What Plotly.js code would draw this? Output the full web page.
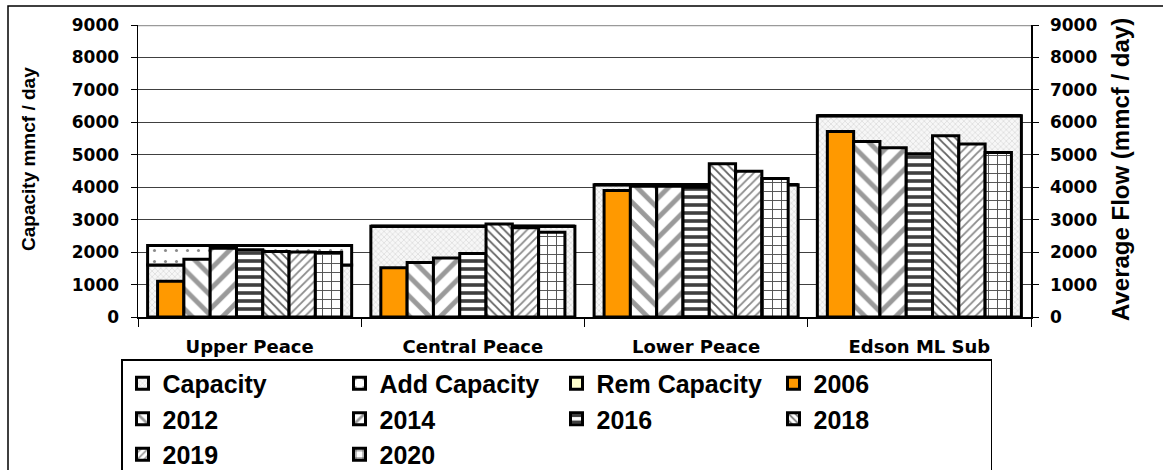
<!DOCTYPE html>
<html><head><meta charset="utf-8">
<script src="https://cdn.plot.ly/plotly-3.0.1.min.js"></script>
<style>html,body{margin:0;padding:0;background:#fff}#chart{width:1163px;height:470px}</style>
</head><body><div id="chart"></div>
<script>
// ---- data ----
const categories = ['Upper Peace', 'Central Peace', 'Lower Peace', 'Edson ML Sub'];
const capacity    = [1600, 2800, 4080, 6200];
const addCapacity = [600, 0, 0, 0];
const remCapacity = [0, 0, 0, 0];
const years = ['2006', '2012', '2014', '2016', '2018', '2019', '2020'];
const flow2006 = [1100, 1520, 3900, 5720];
const flow2012 = [1780, 1680, 4030, 5410];
const flow2014 = [2120, 1820, 4030, 5220];
const flow2016 = [2070, 1960, 4000, 5030];
const flow2018 = [2020, 2870, 4720, 5590];
const flow2019 = [2000, 2750, 4490, 5330];
const flow2020 = [1990, 2610, 4270, 5070];
const yTickVals = [0, 1000, 2000, 3000, 4000, 5000, 6000, 7000, 8000, 9000];
const leftTitle = 'Capacity mmcf / day';
const rightTitle = 'Average Flow (mmcf / day)';

const flows = [flow2006, flow2012, flow2014, flow2016, flow2018, flow2019, flow2020];

// ---- styles ----
const outline = {color: '#000', width: 3};
const yearStyles = [
  {color: '#FF9900', pattern: {shape: ''}},
  {color: '#fff', pattern: {shape: '\\', fgcolor: '#9a9a9a', bgcolor: '#fff', size: 14, solidity: 0.35}},
  {color: '#fff', pattern: {shape: '/', fgcolor: '#9a9a9a', bgcolor: '#fff', size: 14, solidity: 0.35}},
  {color: '#fff', pattern: {shape: '-', fgcolor: '#404040', bgcolor: '#fff', size: 8, solidity: 0.45}},
  {color: '#fff', pattern: {shape: '\\', fgcolor: '#606060', bgcolor: '#fff', size: 6, solidity: 0.3}},
  {color: '#fff', pattern: {shape: '/', fgcolor: '#8a8a8a', bgcolor: '#fff', size: 6, solidity: 0.3}},
  {color: '#fff', pattern: {shape: '+', fgcolor: '#505050', bgcolor: '#fff', size: 9, solidity: 0.2}}
];
const capWidth = 0.914;
const barW = 0.1178;
const groupLeft = -0.4123;

const traces = [];
traces.push({type: 'bar', name: 'Capacity', x: categories, y: capacity, width: capWidth,
  marker: {color: '#f4f4f4', line: outline, pattern: {shape: 'x', fgcolor: '#cfcfcf', bgcolor: '#f7f7f7', size: 4, solidity: 0.25}},
  xaxis: 'x', yaxis: 'y', hoverinfo: 'skip'});
traces.push({type: 'bar', name: 'Add Capacity', x: categories, y: addCapacity, base: capacity, width: capWidth,
  marker: {color: '#fff', line: outline, pattern: {shape: '.', fgcolor: '#8a8a8a', bgcolor: '#fff', size: 11, solidity: 0.06}},
  xaxis: 'x', yaxis: 'y', hoverinfo: 'skip'});
traces.push({type: 'bar', name: 'Rem Capacity', x: categories, y: remCapacity,
  base: capacity.map((c, i) => c + addCapacity[i]), width: capWidth,
  marker: {color: '#FFFFCC', line: outline},
  xaxis: 'x', yaxis: 'y', hoverinfo: 'skip'});
years.forEach((yr, i) => {
  traces.push({type: 'bar', name: yr, x: categories, y: flows[i], width: barW, offset: groupLeft + i * barW,
    marker: Object.assign({line: outline}, yearStyles[i]),
    xaxis: 'x', yaxis: 'y2', hoverinfo: 'skip'});
});

const tickFont = {family: 'DejaVu Sans', size: 17, weight: 'bold', color: '#000'};
const W = 1163, H = 470, L = 138, R = 132, T = 25, B = 153;
const pw = W - L - R, ph = H - T - B;
const px = v => (v - L) / pw;
const py = v => (H - B - v) / ph;

const layout = {
  width: W, height: H,
  margin: {l: L, r: R, t: T, b: B, autoexpand: false},
  paper_bgcolor: '#fff', plot_bgcolor: '#fff',
  barmode: 'overlay',
  showlegend: true,
  xaxis: {type: 'category', range: [-0.5, 3.5], showgrid: false, zeroline: false,
    showline: true, linecolor: '#000', linewidth: 2,
    ticks: 'outside', tickson: 'boundaries', ticklen: 8, tickcolor: '#000', tickwidth: 1,
    ticklabelstandoff: 12,
    tickfont: {family: 'DejaVu Sans', size: 18, weight: 'bold', color: '#000'}},
  yaxis: {range: [0, 9000], tickvals: yTickVals, showgrid: true, gridcolor: '#404040', gridwidth: 1,
    zeroline: false, showline: true, linecolor: '#000', linewidth: 1.5,
    ticks: 'outside', ticklen: 6, tickcolor: '#000', ticklabelstandoff: 8, tickfont: tickFont},
  yaxis2: {range: [0, 9000], tickvals: yTickVals, overlaying: 'y', side: 'right', showgrid: false,
    zeroline: false, showline: true, linecolor: '#000', linewidth: 1.5,
    ticks: 'outside', ticklen: 6, tickcolor: '#000', ticklabelstandoff: 8, tickfont: tickFont},
  legend: {orientation: 'h', x: px(121), y: py(359), xanchor: 'left', yanchor: 'top',
    entrywidth: 172, entrywidthmode: 'pixels', traceorder: 'normal',
    bgcolor: '#fff', bordercolor: '#000', borderwidth: 1.5,
    font: {family: 'Liberation Sans', size: 25, weight: 'bold', color: '#000'}},
  annotations: [
    {text: leftTitle, xref: 'paper', yref: 'paper', x: px(29), y: py(159), textangle: -90,
      showarrow: false, xanchor: 'center', yanchor: 'middle',
      font: {family: 'Liberation Sans', size: 19, weight: 'bold', color: '#000'}},
    {text: rightTitle, xref: 'paper', yref: 'paper', x: px(1120), y: py(170), textangle: -90,
      showarrow: false, xanchor: 'center', yanchor: 'middle',
      font: {family: 'Liberation Sans', size: 24, weight: 'bold', color: '#000'}}
  ],
  shapes: [
    {type: 'line', xref: 'paper', yref: 'y', x0: 0, x1: 1, y0: 9000, y1: 9000,
      line: {color: '#9a9a9a', width: 2.5}},
    {type: 'rect', xref: 'paper', yref: 'paper', x0: px(8), x1: px(1175), y0: py(6), y1: py(490),
      line: {color: '#000', width: 1.5}, fillcolor: 'rgba(0,0,0,0)'}
  ]
};

Plotly.newPlot('chart', traces, layout, {displayModeBar: false, staticPlot: true});
</script>
</body></html>
